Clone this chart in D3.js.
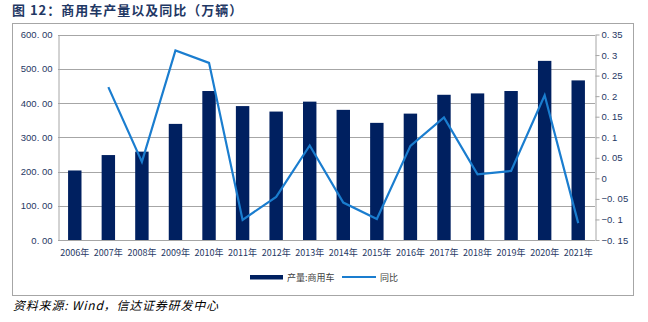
<!DOCTYPE html>
<html>
<head>
<meta charset="utf-8">
<script src="https://cdn.jsdelivr.net/npm/d3@7"></script>
<style>
  html, body { margin: 0; padding: 0; background: #fff; }
  svg { display: block; }
  text { font-family: "Liberation Sans", Arial, "Noto Sans CJK SC", sans-serif; }
</style>
</head>
<body>
<svg id="chart" width="648" height="322"></svg>
<script>
// Commercial vehicle output (10k units) and year-on-year change
const years = ["2006年","2007年","2008年","2009年","2010年","2011年","2012年","2013年",
               "2014年","2015年","2016年","2017年","2018年","2019年","2020年","2021年"];
const output = [203, 248, 258, 339, 435, 391, 375, 404, 380, 342, 369, 424, 428, 435, 523, 466];
const yoy = [null, 0.222, 0.040, 0.311, 0.281, -0.101, -0.045, 0.080, -0.059, -0.099, 0.079, 0.148, 0.010, 0.018, 0.202, -0.109];
const leftTicks = [0, 100, 200, 300, 400, 500, 600];
const rightTicks = [-0.15, -0.1, -0.05, 0, 0.05, 0.1, 0.15, 0.2, 0.25, 0.3, 0.35];

const svg = d3.select("#chart");
const cjk = '"Noto Sans CJK SC", sans-serif';
const plot = { left: 58, right: 595, top: 34.5, bottom: 240 };

const x = d3.scaleBand().domain(years).range([plot.left, plot.right]).paddingInner(0.6).paddingOuter(0.3);
const yL = d3.scaleLinear().domain([0, 600]).range([plot.bottom, plot.top]);
const yR = d3.scaleLinear().domain([-0.15, 0.35]).range([plot.bottom, plot.top]);

// Title
svg.append("text").attr("x", 12).attr("y", 15)
  .style("font-family", cjk).style("font-size", "13px").style("font-weight", "bold")
  .style("letter-spacing", "1px")
  .attr("fill", "#1f3864").text("图 12：商用车产量以及同比（万辆）");

// Outer frame
svg.append("rect").attr("x", 12.5).attr("y", 23.5).attr("width", 621).attr("height", 272)
  .attr("fill", "none").attr("stroke", "#a6a6a6").attr("stroke-width", 1);

// Gridlines
svg.append("g").selectAll("line").data(leftTicks).join("line")
  .attr("x1", plot.left).attr("x2", plot.right)
  .attr("y1", d => Math.round(yL(d)) + 0.5).attr("y2", d => Math.round(yL(d)) + 0.5)
  .attr("stroke", "#a6a6a6").attr("stroke-width", 1);

// Left axis
const fmtL = d => d.toFixed(2).replace(".", ". ");
const gL = svg.append("g").attr("transform", `translate(${plot.left + 0.5},0)`)
  .call(d3.axisLeft(yL).tickValues(leftTicks).tickSize(0).tickPadding(6).tickFormat(fmtL));
gL.select(".domain").attr("stroke", "#a6a6a6");
gL.selectAll("text").attr("fill", "#1f3864").style("font-size", "9.5px");

// Right axis
const fmtR = d => (+d.toFixed(2)).toString().replace("-", "−").replace(".", ". ");
const gR = svg.append("g").attr("transform", `translate(${plot.right + 0.5},0)`)
  .call(d3.axisRight(yR).tickValues(rightTicks).tickSize(4).tickSizeOuter(0).tickPadding(2).tickFormat(fmtR));
gR.select(".domain").attr("stroke", "#a6a6a6");
gR.selectAll(".tick line").attr("stroke", "#a6a6a6");
gR.selectAll("text").attr("fill", "#1f3864").style("font-size", "9.5px");

// Bars
svg.append("g").selectAll("rect").data(years).join("rect")
  .attr("x", d => x(d)).attr("width", x.bandwidth())
  .attr("y", (d, i) => yL(output[i])).attr("height", (d, i) => yL(0) - yL(output[i]))
  .attr("fill", "#002060");

// X labels
svg.append("g").selectAll("text").data(years).join("text")
  .attr("x", d => x(d) + x.bandwidth() / 2).attr("y", 256)
  .attr("text-anchor", "middle").style("font-family", cjk).style("font-size", "9px")
  .attr("fill", "#1f3864").text(d => d);

// YoY line
const line = d3.line()
  .defined(d => d.v !== null)
  .x(d => x(d.k) + x.bandwidth() / 2)
  .y(d => yR(d.v));
svg.append("path").datum(years.map((k, i) => ({ k, v: yoy[i] })))
  .attr("d", line).attr("fill", "none").attr("stroke", "#1a7dcf").attr("stroke-width", 2.2)
  .attr("stroke-linejoin", "miter");

// Legend
const lg = svg.append("g");
lg.append("rect").attr("x", 250).attr("y", 275).attr("width", 33).attr("height", 4.5).attr("fill", "#002060");
lg.append("text").attr("x", 287).attr("y", 280.5).style("font-family", cjk).style("font-size", "9px")
  .attr("fill", "#404040").text("产量:商用车");
lg.append("line").attr("x1", 342).attr("x2", 376).attr("y1", 277).attr("y2", 277)
  .attr("stroke", "#1a7dcf").attr("stroke-width", 2);
lg.append("text").attr("x", 380).attr("y", 280.5).style("font-family", cjk).style("font-size", "9px")
  .attr("fill", "#404040").text("同比");

// Source note
svg.append("text").attr("x", 13).attr("y", 310)
  .style("font-family", cjk).style("font-size", "12px").style("font-style", "italic")
  .style("letter-spacing", "0.8px")
  .attr("fill", "#000").text("资料来源: Wind，信达证券研发中心");
</script>
</body>
</html>
